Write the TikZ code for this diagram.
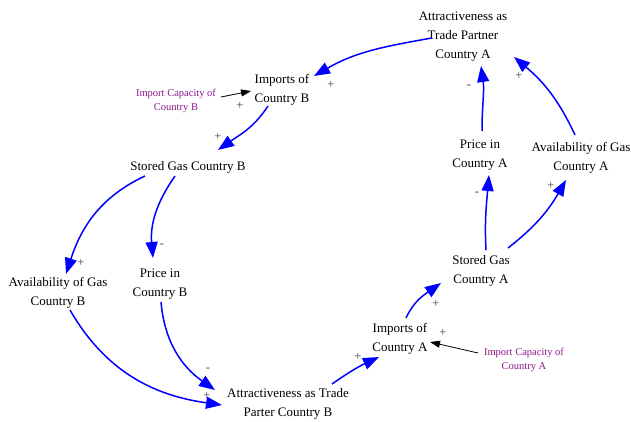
\documentclass[tikz,border=0pt]{standalone}
\usepackage{fontspec}
\setmainfont{Liberation Serif}
\usetikzlibrary{arrows.meta,calc}

\definecolor{capcolor}{RGB}{140,20,140}

\begin{document}
\begin{tikzpicture}[x=1pt,y=1pt]
          \tikzstyle{factor}=[inner sep=1pt, align=center, font=\fontsize{13}{19}\selectfont]
          \tikzstyle{capnote}=[inner sep=1pt, align=center, text=capcolor, font=\fontsize{10.5}{13.5}\selectfont]
          \tikzstyle{polarity}=[inner sep=0pt, text=black!75, font=\fontsize{12.5}{12.5}\selectfont]
          \tikzstyle{causal}=[draw=blue, line width=1.5pt, -{Triangle[length=16pt,width=12pt]}]
          \tikzstyle{inflow}=[draw=black, line width=0.8pt, -{Triangle[length=10pt,width=7pt]}]

          \useasboundingbox (0,0) rectangle (631,421);

          \node (AttrA) at (463, 384) [factor] {Attractiveness as\\Trade Partner\\Country A};
          \node (ImpB) at (282, 331) [factor] {Imports of\\Country B};
          \node (CapB) at (176, 320) [capnote] {Import Capacity of\\Country B};
          \node (StoredB) at (188, 254) [factor] {Stored Gas Country B};
          \node (AvailB) at (58, 128) [factor] {Availability of Gas\\Country B};
          \node (PriceB) at (160, 137) [factor] {Price in\\Country B};
          \node (AttrB) at (288, 17) [factor] {Attractiveness as Trade\\Parter Country B};
          \node (ImpA) at (400, 82) [factor] {Imports of\\Country A};
          \node (CapA) at (524, 61) [capnote] {Import Capacity of\\Country A};
          \node (StoredA) at (481, 150) [factor] {Stored Gas\\Country A};
          \node (PriceA) at (480, 266) [factor] {Price in\\Country A};
          \node (AvailA) at (581, 263) [factor] {Availability of Gas\\Country A};

          % loop through country B
          \draw[causal] ($(AttrA)+(-31,-1)$) to[out=190, in=30] ($(ImpB)+(32,14)$);
          \draw[causal] ($(ImpB)+(-14,-16)$) to[out=237, in=35] ($(StoredB)+(30,17)$);
          \draw[causal] ($(StoredB)+(-43,-9)$) to[out=205, in=72] ($(AvailB)+(8,19)$);
          \draw[causal] ($(StoredB)+(-13,-9)$) to[out=235, in=95] ($(PriceB)+(-7,26)$);
          \draw[causal] ($(AvailB)+(12,-17)$) to[out=-60, in=172] ($(AttrB)+(-66,-1)$);
          \draw[causal] ($(PriceB)+(1,-18)$) to[out=-85, in=145] ($(AttrB)+(-73,14)$);

          % loop through country A
          \draw[causal] ($(AttrB)+(44,20)$) to[out=35, in=205] ($(ImpA)+(-21,-18)$);
          \draw[causal] ($(ImpA)+(6,21)$) to[out=65, in=215] ($(StoredA)+(-40,-12)$);
          \draw[causal] ($(StoredA)+(5,21)$) to[out=93, in=265] ($(PriceA)+(9,-20)$);
          \draw[causal] ($(StoredA)+(27,23)$) to[out=38, in=240] ($(AvailA)+(-15,-22)$);
          \draw[causal] ($(PriceA)+(2,24)$) to[out=90, in=-82] ($(AttrA)+(18,-29)$);
          \draw[causal] ($(AvailA)+(-6,23)$) to[out=115, in=-40] ($(AttrA)+(51,-20)$);

          \draw[inflow] ($(CapB)+(45,4)$) -- ($(ImpB)+(-31,-1)$);
          \draw[inflow] ($(CapA)+(-46,7)$) -- ($(ImpA)+(30,-3)$);

          \node (sImpB) at (331, 336) [polarity] {+};
          \node (sCapB) at (240, 315) [polarity] {+};
          \node (sStoredB) at (218, 284) [polarity] {+};
          \node (sAvailB) at (81, 158) [polarity] {+};
          \node (sPriceB) at (162, 175) [polarity] {-};
          \node (sAttrBPrice) at (208, 51) [polarity] {-};
          \node (sAttrBAvail) at (207, 25) [polarity] {+};
          \node (sImpA) at (358, 64) [polarity] {+};
          \node (sCapA) at (443, 88) [polarity] {+};
          \node (sStoredA) at (436, 117) [polarity] {+};
          \node (sPriceA) at (477, 227) [polarity] {-};
          \node (sAvailA) at (551, 235) [polarity] {+};
          \node (sAttrAPrice) at (469, 334) [polarity] {-};
          \node (sAttrAAvail) at (519, 345) [polarity] {+};
        \end{tikzpicture}
\end{document}
